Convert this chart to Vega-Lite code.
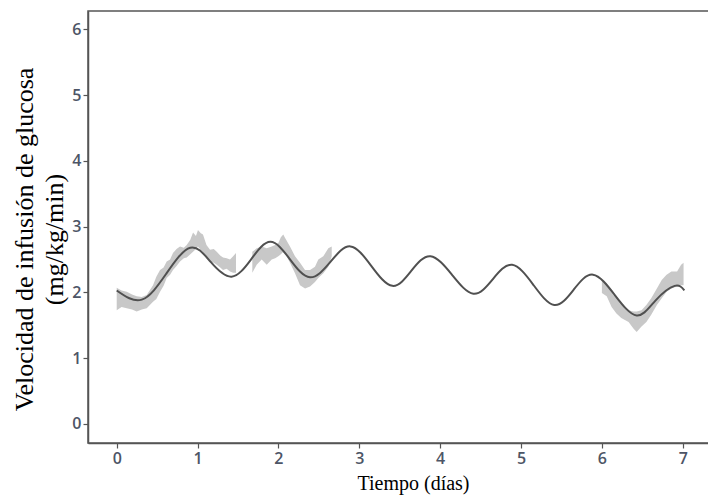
{
  "$schema": "https://vega.github.io/schema/vega-lite/v6.json",
  "autosize": {"type": "none"},
  "padding": {"left": 88, "top": 11, "right": 0, "bottom": 53},
  "width": 622,
  "height": 432,
  "background": "white",
  "config": {
    "view": {"stroke": "#555555", "strokeWidth": 1.5},
    "axis": {
      "grid": false,
      "domainColor": "#555555",
      "domainWidth": 1.5,
      "tickColor": "#555555",
      "tickWidth": 1.2,
      "tickSize": 5,
      "labelFont": "Open Sans",
      "labelFontSize": 16,
      "labelFontWeight": 600,
      "labelColor": "#4d5566",
      "labelPadding": 2,
      "format": "d",
      "titleFont": "Liberation Serif",
      "titleFontWeight": "normal",
      "titleColor": "#000000"
    }
  },
  "datasets": {
    "band": [
      {"seg": 1, "t": 0.00, "lo": 1.73, "hi": 2.07},
      {"seg": 1, "t": 0.06, "lo": 1.78, "hi": 2.03},
      {"seg": 1, "t": 0.124, "lo": 1.76, "hi": 2.01},
      {"seg": 1, "t": 0.19, "lo": 1.74, "hi": 1.97},
      {"seg": 1, "t": 0.247, "lo": 1.71, "hi": 1.94},
      {"seg": 1, "t": 0.31, "lo": 1.74, "hi": 1.93},
      {"seg": 1, "t": 0.371, "lo": 1.76, "hi": 1.96},
      {"seg": 1, "t": 0.449, "lo": 1.86, "hi": 2.11},
      {"seg": 1, "t": 0.49, "lo": 1.90, "hi": 2.24},
      {"seg": 1, "t": 0.536, "lo": 2.01, "hi": 2.34},
      {"seg": 1, "t": 0.58, "lo": 2.10, "hi": 2.38},
      {"seg": 1, "t": 0.618, "lo": 2.22, "hi": 2.47},
      {"seg": 1, "t": 0.66, "lo": 2.27, "hi": 2.50},
      {"seg": 1, "t": 0.696, "lo": 2.34, "hi": 2.60},
      {"seg": 1, "t": 0.74, "lo": 2.40, "hi": 2.66},
      {"seg": 1, "t": 0.783, "lo": 2.47, "hi": 2.70},
      {"seg": 1, "t": 0.83, "lo": 2.52, "hi": 2.68},
      {"seg": 1, "t": 0.866, "lo": 2.53, "hi": 2.72},
      {"seg": 1, "t": 0.91, "lo": 2.58, "hi": 2.80},
      {"seg": 1, "t": 0.944, "lo": 2.62, "hi": 2.91},
      {"seg": 1, "t": 0.98, "lo": 2.66, "hi": 2.86},
      {"seg": 1, "t": 1.005, "lo": 2.70, "hi": 2.95},
      {"seg": 1, "t": 1.04, "lo": 2.64, "hi": 2.90},
      {"seg": 1, "t": 1.067, "lo": 2.62, "hi": 2.88},
      {"seg": 1, "t": 1.11, "lo": 2.52, "hi": 2.72},
      {"seg": 1, "t": 1.154, "lo": 2.47, "hi": 2.65},
      {"seg": 1, "t": 1.20, "lo": 2.45, "hi": 2.66},
      {"seg": 1, "t": 1.237, "lo": 2.42, "hi": 2.62},
      {"seg": 1, "t": 1.28, "lo": 2.38, "hi": 2.56},
      {"seg": 1, "t": 1.315, "lo": 2.34, "hi": 2.53},
      {"seg": 1, "t": 1.36, "lo": 2.36, "hi": 2.52},
      {"seg": 1, "t": 1.401, "lo": 2.32, "hi": 2.50},
      {"seg": 1, "t": 1.44, "lo": 2.30, "hi": 2.55},
      {"seg": 1, "t": 1.475, "lo": 2.30, "hi": 2.60},
      {"seg": 2, "t": 1.677, "lo": 2.30, "hi": 2.62},
      {"seg": 2, "t": 1.731, "lo": 2.42, "hi": 2.67},
      {"seg": 2, "t": 1.793, "lo": 2.50, "hi": 2.70},
      {"seg": 2, "t": 1.855, "lo": 2.42, "hi": 2.67},
      {"seg": 2, "t": 1.917, "lo": 2.50, "hi": 2.70},
      {"seg": 2, "t": 1.96, "lo": 2.52, "hi": 2.72},
      {"seg": 2, "t": 1.999, "lo": 2.55, "hi": 2.75},
      {"seg": 2, "t": 2.030, "lo": 2.58, "hi": 2.84},
      {"seg": 2, "t": 2.060, "lo": 2.62, "hi": 2.88},
      {"seg": 2, "t": 2.081, "lo": 2.60, "hi": 2.83},
      {"seg": 2, "t": 2.143, "lo": 2.45, "hi": 2.70},
      {"seg": 2, "t": 2.205, "lo": 2.29, "hi": 2.55},
      {"seg": 2, "t": 2.267, "lo": 2.11, "hi": 2.45},
      {"seg": 2, "t": 2.329, "lo": 2.06, "hi": 2.34},
      {"seg": 2, "t": 2.391, "lo": 2.09, "hi": 2.34},
      {"seg": 2, "t": 2.452, "lo": 2.16, "hi": 2.39},
      {"seg": 2, "t": 2.493, "lo": 2.22, "hi": 2.50},
      {"seg": 2, "t": 2.555, "lo": 2.29, "hi": 2.55},
      {"seg": 2, "t": 2.617, "lo": 2.39, "hi": 2.67},
      {"seg": 2, "t": 2.659, "lo": 2.55, "hi": 2.70},
      {"seg": 3, "t": 6.00, "lo": 1.99, "hi": 2.19},
      {"seg": 3, "t": 6.06, "lo": 1.94, "hi": 2.14},
      {"seg": 3, "t": 6.12, "lo": 1.78, "hi": 2.04},
      {"seg": 3, "t": 6.18, "lo": 1.68, "hi": 1.94},
      {"seg": 3, "t": 6.24, "lo": 1.61, "hi": 1.84},
      {"seg": 3, "t": 6.33, "lo": 1.55, "hi": 1.73},
      {"seg": 3, "t": 6.39, "lo": 1.45, "hi": 1.71},
      {"seg": 3, "t": 6.43, "lo": 1.40, "hi": 1.71},
      {"seg": 3, "t": 6.49, "lo": 1.48, "hi": 1.73},
      {"seg": 3, "t": 6.55, "lo": 1.55, "hi": 1.81},
      {"seg": 3, "t": 6.61, "lo": 1.66, "hi": 1.91},
      {"seg": 3, "t": 6.68, "lo": 1.81, "hi": 2.06},
      {"seg": 3, "t": 6.74, "lo": 1.91, "hi": 2.19},
      {"seg": 3, "t": 6.80, "lo": 2.01, "hi": 2.27},
      {"seg": 3, "t": 6.86, "lo": 2.06, "hi": 2.32},
      {"seg": 3, "t": 6.93, "lo": 2.09, "hi": 2.32},
      {"seg": 3, "t": 6.98, "lo": 2.11, "hi": 2.42},
      {"seg": 3, "t": 7.01, "lo": 2.11, "hi": 2.45}
    ],
    "curve": [
      {"t": 0.00, "v": 2.03},
      {"t": 0.31, "v": 1.89},
      {"t": 0.61, "v": 2.28},
      {"t": 0.91, "v": 2.68},
      {"t": 1.165, "v": 2.46},
      {"t": 1.42, "v": 2.24},
      {"t": 1.66, "v": 2.50},
      {"t": 1.90, "v": 2.77},
      {"t": 2.145, "v": 2.50},
      {"t": 2.39, "v": 2.23},
      {"t": 2.64, "v": 2.46},
      {"t": 2.89, "v": 2.70},
      {"t": 3.15, "v": 2.40},
      {"t": 3.41, "v": 2.10},
      {"t": 3.645, "v": 2.33},
      {"t": 3.88, "v": 2.55},
      {"t": 4.145, "v": 2.27},
      {"t": 4.41, "v": 1.98},
      {"t": 4.65, "v": 2.20},
      {"t": 4.89, "v": 2.42},
      {"t": 5.15, "v": 2.12},
      {"t": 5.41, "v": 1.81},
      {"t": 5.65, "v": 2.04},
      {"t": 5.89, "v": 2.27},
      {"t": 6.16, "v": 1.96},
      {"t": 6.43, "v": 1.65},
      {"t": 6.665, "v": 1.88},
      {"t": 6.90, "v": 2.10},
      {"t": 7.02, "v": 2.03}
    ]
  },
  "layer": [
    {
      "data": {"name": "band"},
      "mark": {"type": "area", "color": "#c8c8c8", "opacity": 1},
      "encoding": {
        "x": {"field": "t", "type": "quantitative",
          "scale": {"domain": [-0.355, 7.337], "nice": false, "zero": false},
          "axis": {"values": [0, 1, 2, 3, 4, 5, 6, 7], "title": "Tiempo (días)",
            "titleFontSize": 20, "titleX": 325, "titleY": 40, "titleBaseline": "middle", "titleAlign": "center"}},
        "y": {"field": "lo", "type": "quantitative",
          "scale": {"domain": [-0.29, 6.28], "nice": false, "zero": false},
          "axis": {"values": [0, 1, 2, 3, 4, 5, 6],
            "title": ["Velocidad de infusión de glucosa", "(mg/kg/min)"],
            "titleFontSize": 26, "titleLineHeight": 30, "titleAngle": -90,
            "titleX": -64, "titleY": 228, "titleBaseline": "middle", "titleAlign": "center"}},
        "y2": {"field": "hi"},
        "detail": {"field": "seg", "type": "nominal"}
      }
    },
    {
      "data": {"name": "curve"},
      "mark": {"type": "line", "color": "#505050", "strokeWidth": 2, "interpolate": "natural"},
      "encoding": {
        "x": {"field": "t", "type": "quantitative"},
        "y": {"field": "v", "type": "quantitative"}
      }
    }
  ]
}
